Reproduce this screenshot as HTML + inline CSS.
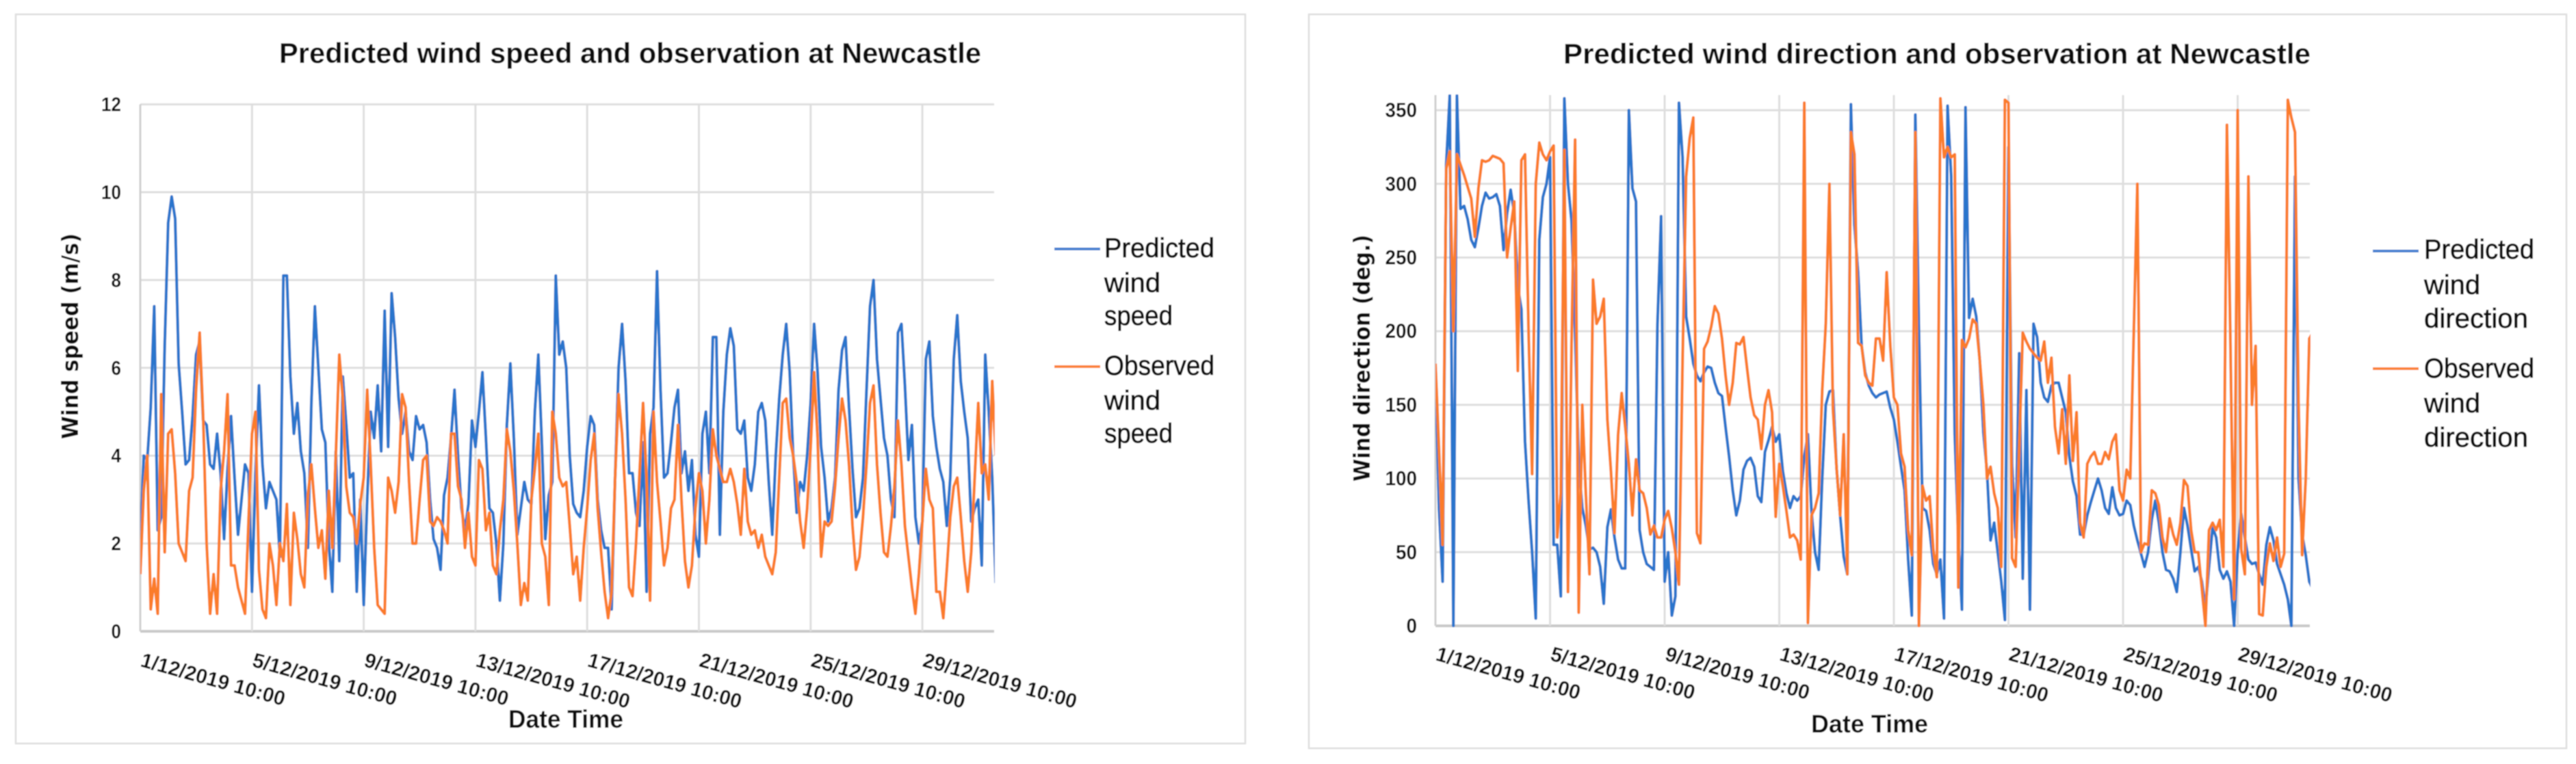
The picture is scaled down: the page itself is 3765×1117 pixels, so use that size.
<!DOCTYPE html>
<html>
<head>
<meta charset="utf-8">
<title>Predicted wind speed and direction at Newcastle</title>
<style>
html,body{margin:0;padding:0;background:#fff;}
svg{display:block;}
text{font-family:"Liberation Sans",sans-serif;fill:#0c0c0c;}
</style>
</head>
<body>
<svg id="figure" xmlns="http://www.w3.org/2000/svg" width="3765" height="1117" viewBox="0 0 3765 1117">
  <defs>
    <filter id="soft" x="0" y="0" width="100%" height="100%" filterUnits="userSpaceOnUse" primitiveUnits="userSpaceOnUse"><feGaussianBlur stdDeviation="0.9"/></filter>
    <clipPath id="clip-speed"><rect x="205" y="150" width="1249" height="776"/></clipPath>
    <clipPath id="clip-direction"><rect x="2098" y="138" width="1279" height="780"/></clipPath>
  </defs>
  <rect width="3765" height="1117" fill="#fff"/>
  <g id="root" filter="url(#soft)">
    <rect x="23" y="21" width="1797" height="1066" fill="#fff" stroke="#dedede" stroke-width="2.5"/>
    <rect x="1913" y="21" width="1838" height="1073" fill="#fff" stroke="#dedede" stroke-width="2.5"/>

    <g id="speed-chart">
      <text x="408" y="92" font-size="42" font-weight="bold" textLength="1026" lengthAdjust="spacingAndGlyphs">Predicted wind speed and observation at Newcastle</text>
      <text transform="translate(114,642) rotate(-90)" style="font-family:'DejaVu Sans',sans-serif" font-size="33" font-weight="bold" textLength="301" lengthAdjust="spacingAndGlyphs">Wind speed (m/s)</text>
      <text x="743" y="1064" font-size="37" font-weight="bold" textLength="168" lengthAdjust="spacingAndGlyphs">Date Time</text>
      <g id="speed-grid"></g>
      <g id="speed-series" clip-path="url(#clip-speed)"></g>
      <g id="speed-ticks"></g>
      <g stroke="#0c0c0c" stroke-width="0.8">
        <line x1="1541" y1="364" x2="1608" y2="364" stroke="#3f7fd0" stroke-width="4"/>
        <text x="1614" y="376" font-size="40" textLength="161" lengthAdjust="spacingAndGlyphs">Predicted</text>
        <text x="1614" y="427" font-size="40" textLength="82" lengthAdjust="spacingAndGlyphs">wind</text>
        <text x="1614" y="475" font-size="40" textLength="100" lengthAdjust="spacingAndGlyphs">speed</text>
        <line x1="1541" y1="536" x2="1608" y2="536" stroke="#fb8236" stroke-width="4"/>
        <text x="1614" y="548" font-size="40" textLength="161" lengthAdjust="spacingAndGlyphs">Observed</text>
        <text x="1614" y="599" font-size="40" textLength="82" lengthAdjust="spacingAndGlyphs">wind</text>
        <text x="1614" y="647" font-size="40" textLength="100" lengthAdjust="spacingAndGlyphs">speed</text>
      </g>
    </g>

    <g id="direction-chart">
      <text x="2285" y="93" font-size="42" font-weight="bold" textLength="1092" lengthAdjust="spacingAndGlyphs">Predicted wind direction and observation at Newcastle</text>
      <text transform="translate(2002,704) rotate(-90)" style="font-family:'DejaVu Sans',sans-serif" font-size="33" font-weight="bold" textLength="361" lengthAdjust="spacingAndGlyphs">Wind direction (deg.)</text>
      <text x="2647" y="1071" font-size="37" font-weight="bold" textLength="171" lengthAdjust="spacingAndGlyphs">Date Time</text>
      <g id="direction-grid"></g>
      <g id="direction-series" clip-path="url(#clip-direction)"></g>
      <g id="direction-ticks"></g>
      <g stroke="#0c0c0c" stroke-width="0.8">
        <line x1="3468" y1="367" x2="3535" y2="367" stroke="#3f7fd0" stroke-width="4"/>
        <text x="3543" y="378" font-size="40" textLength="161" lengthAdjust="spacingAndGlyphs">Predicted</text>
        <text x="3543" y="430" font-size="40" textLength="82" lengthAdjust="spacingAndGlyphs">wind</text>
        <text x="3543" y="479" font-size="40" textLength="152" lengthAdjust="spacingAndGlyphs">direction</text>
        <line x1="3468" y1="539" x2="3535" y2="539" stroke="#fb8236" stroke-width="4"/>
        <text x="3543" y="552" font-size="40" textLength="161" lengthAdjust="spacingAndGlyphs">Observed</text>
        <text x="3543" y="603" font-size="40" textLength="82" lengthAdjust="spacingAndGlyphs">wind</text>
        <text x="3543" y="653" font-size="40" textLength="152" lengthAdjust="spacingAndGlyphs">direction</text>
      </g>
    </g>
  </g>
</svg>
<script>
// Date tick labels (one every 4 days = 96 hours)
const dateLabels = ["1/12/2019 10:00","5/12/2019 10:00","9/12/2019 10:00","13/12/2019 10:00","17/12/2019 10:00","21/12/2019 10:00","25/12/2019 10:00","29/12/2019 10:00"];
const speedTicks = [0,2,4,6,8,10,12];
const directionTicks = [0,50,100,150,200,250,300,350];
const hoursPerSample = 3;

// Wind speed (m/s), one reading per 3 hours
const predictedSpeed = [2.0,4.0,3.9,5.1,7.4,2.3,2.6,6.5,9.3,9.9,9.4,6.1,5.0,3.8,3.9,4.9,6.3,6.6,4.8,4.7,3.8,3.7,4.5,3.6,2.1,3.7,4.9,3.5,2.2,3.0,3.8,3.6,0.9,3.6,5.6,3.8,2.8,3.4,3.2,3.0,1.7,8.1,8.1,5.8,4.5,5.2,4.1,3.6,1.9,5.2,7.4,6.0,4.6,4.3,2.0,0.9,4.1,1.6,5.8,4.7,3.5,3.6,0.9,3.0,0.6,3.0,5.0,4.4,5.6,4.1,7.3,4.2,7.7,6.7,5.3,4.5,5.0,4.1,3.9,4.9,4.6,4.7,4.3,3.0,2.1,1.9,1.4,3.1,3.5,4.4,5.5,4.0,2.8,2.3,2.9,4.8,4.2,5.0,5.9,4.4,2.8,2.7,2.0,0.7,2.0,4.7,6.1,4.4,2.2,2.8,3.4,3.0,2.9,5.0,6.3,4.3,2.1,3.1,3.4,8.1,6.3,6.6,
6.0,4.0,2.9,2.7,2.6,3.2,4.2,4.9,4.7,3.0,2.3,1.9,1.9,0.5,3.5,6.0,7.0,5.7,3.6,3.6,2.7,2.4,4.3,0.9,4.5,5.1,8.2,5.5,3.5,3.6,4.3,5.1,5.5,3.6,4.1,3.2,3.9,2.2,1.7,4.5,5.0,3.6,6.7,6.7,2.2,5.0,6.3,6.9,6.5,4.6,4.5,4.8,3.5,3.2,3.8,5.0,5.2,4.8,3.4,2.2,4.0,5.3,6.3,7.0,5.9,4.0,2.7,3.4,3.2,4.0,5.2,7.0,5.9,4.2,3.5,2.5,2.8,3.5,5.5,6.4,6.7,5.1,3.7,2.6,2.8,3.5,5.5,7.4,8.0,6.2,5.3,4.4,4.0,3.0,2.6,6.8,7.0,5.6,3.9,4.7,2.6,2.0,2.5,6.2,6.6,4.9,4.2,3.7,3.4,2.4,3.5,6.2,7.2,5.7,5.0,4.4,2.5,2.8,3.0,1.5,6.3,5.0,3.5,1.1];

const observedSpeed = [1.3,3.2,4.0,0.5,1.2,0.4,5.4,1.8,4.5,4.6,3.6,2.0,1.8,1.6,3.2,3.5,5.5,6.8,4.9,2.0,0.4,1.3,0.4,3.2,4.1,5.4,1.5,1.5,1.0,0.7,0.4,2.5,4.5,5.0,1.4,0.5,0.3,2.0,1.5,0.6,2.0,1.6,2.9,0.6,2.7,2.1,1.3,1.0,3.1,3.8,2.8,1.9,2.3,1.2,3.2,1.9,4.0,6.3,5.3,3.3,2.7,2.6,2.0,2.9,3.5,5.5,3.8,1.9,0.6,0.5,0.4,3.5,3.2,2.7,3.4,5.4,5.1,3.4,2.0,2.0,3.0,3.9,4.0,2.5,2.4,2.6,2.5,2.3,2.0,4.5,4.5,3.3,3.0,1.9,2.7,1.7,1.5,3.9,3.7,2.3,2.7,1.5,1.3,2.3,3.0,4.6,4.1,3.2,2.0,0.6,1.1,0.7,3.0,3.7,4.5,2.0,1.7,0.6,5.0,4.5,3.5,3.3,
3.4,2.4,1.3,1.7,0.7,1.9,2.8,3.9,4.5,2.8,1.8,0.9,0.3,0.9,3.5,5.4,4.5,3.0,1.0,0.8,2.0,3.6,5.2,3.5,0.7,5.0,3.4,2.5,1.5,1.9,2.8,3.0,4.7,3.0,1.6,1.0,1.5,2.8,3.6,3.2,2.0,3.0,4.6,4.0,3.7,3.4,3.4,3.7,3.4,2.9,2.2,3.7,2.5,2.2,2.3,1.9,2.2,1.7,1.5,1.3,1.8,3.5,5.2,5.3,4.4,4.0,3.4,2.5,1.9,2.8,4.2,5.9,4.4,1.7,2.5,2.4,2.5,3.3,4.4,5.3,4.8,3.8,2.4,1.4,1.7,2.6,3.8,5.2,5.6,3.8,2.7,1.8,1.7,2.4,3.3,4.8,3.8,2.4,1.7,1.0,0.4,1.3,2.5,3.7,3.0,2.8,0.9,0.9,0.3,1.4,2.6,3.3,3.5,2.6,1.6,0.9,1.8,3.5,5.2,3.6,3.8,3.0,5.7,4.0];

// Wind direction (degrees), one reading per 3 hours
const predictedDirection = [175,80,30,313,360,0,360,283,285,276,262,257,270,285,294,290,291,293,285,255,280,296,280,230,215,125,85,50,5,262,291,300,318,55,55,20,358,300,275,200,110,80,68,52,53,50,40,15,67,79,60,45,39,39,350,297,288,65,50,42,40,38,205,278,30,50,7,20,355,318,210,195,178,170,166,172,176,175,165,158,156,135,115,92,75,85,106,112,114,108,88,84,118,126,135,125,130,105,90,80,88,85,88,115,130,78,50,38,100,150,159,160,107,75,47,35,354,272,240,190,172,163,158,155,
157,158,159,148,140,125,108,92,45,7,347,200,80,78,65,42,35,45,5,353,305,130,60,11,352,209,222,210,180,131,105,58,70,50,30,4,325,110,60,185,32,160,11,205,196,165,155,152,163,165,165,155,145,115,98,88,62,62,75,84,92,100,92,80,76,94,80,75,76,85,82,68,58,49,40,50,72,85,70,50,38,37,32,23,50,80,68,52,37,40,30,12,40,67,60,38,32,37,30,0,50,76,60,45,42,43,35,28,55,67,58,42,35,28,18,0,305,100,62,48,30,25];

const observedDirection = [178,120,55,310,322,200,320,313,306,298,290,264,297,316,315,316,319,318,317,314,250,270,288,173,316,320,200,103,300,328,320,316,322,326,60,90,323,23,191,330,9,150,90,35,235,205,210,222,140,105,63,130,158,135,110,75,113,92,90,80,62,68,60,60,72,78,66,50,28,180,305,331,345,63,56,188,193,203,217,212,195,170,150,165,192,191,196,175,155,143,140,120,150,160,145,74,110,95,78,60,62,58,45,355,2,75,80,90,160,205,300,147,107,75,130,35,335,320,192,190,170,165,163,195,
195,180,240,190,155,150,117,108,65,48,335,0,95,85,88,52,33,358,318,325,318,320,26,194,189,195,208,205,180,150,100,108,90,80,40,357,355,46,40,120,199,193,188,185,182,180,193,165,182,135,117,147,110,170,112,145,70,60,110,115,118,110,110,118,113,125,130,92,85,106,100,200,300,50,56,55,92,90,82,60,50,73,62,55,70,99,95,65,50,50,25,0,65,70,65,72,40,340,190,18,350,52,35,305,150,190,8,7,40,56,44,60,40,49,357,345,335,150,48,100,195,199];

// Axis functions: hours-since-start to x, value to y
function xSpeed(hour){ return 205 + hour * 163.3 / 96; }
function ySpeed(v){ return 923 - v * 64.2; }
function xDirection(hour){ return 2098 + hour * 167.5 / 96; }
function yDirection(v){ return 915 - v * 2.154; }

const SVGNS = "http://www.w3.org/2000/svg";

function makeGridLine(parent, x1, y1, x2, y2, color, width){
  const el = document.createElementNS(SVGNS, "line");
  
  
  el.setAttribute("x1", x1);
  el.setAttribute("y1", y1);
  el.setAttribute("x2", x2);
  el.setAttribute("y2", y2);
  el.setAttribute("stroke", color);
  el.setAttribute("stroke-width", width);
  parent.appendChild(el);
}

function makeSeries(parent, values, xFn, yFn, color, name){
  const el = document.createElementNS(SVGNS, "path");
  
  
  const pts = [];
  for (let i = 0; i < values.length; i++){
    pts.push((i === 0 ? "M" : "L") + xFn(i * hoursPerSample).toFixed(1) + " " + yFn(values[i]).toFixed(1));
  }
  el.setAttribute("d", pts.join(""));
  el.setAttribute("fill", "none");
  el.setAttribute("stroke", color);
  el.setAttribute("stroke-width", "4.2");
  el.setAttribute("stroke-linejoin", "round");
  parent.appendChild(el);
}

function makeValueLabel(parent, text, x, y, size, digitWidth){
  const el = document.createElementNS(SVGNS, "text");
  
  
  el.setAttribute("x", x - text.length * digitWidth);
  el.setAttribute("y", y);
  el.setAttribute("font-size", size);
  el.setAttribute("font-weight", "bold");
  el.setAttribute("textLength", String(text.length * digitWidth));
  el.setAttribute("lengthAdjust", "spacingAndGlyphs");
  el.textContent = text;
  parent.appendChild(el);
}

function makeDateLabel(parent, text, x, y){
  const el = document.createElementNS(SVGNS, "text");
  
  
  el.setAttribute("transform", "translate(" + x + "," + y + ") rotate(15.5)");
  el.setAttribute("font-size", "30");
  el.setAttribute("font-weight", "bold");
  el.setAttribute("textLength", String(text.length * 14.5));
  el.setAttribute("lengthAdjust", "spacingAndGlyphs");
  el.textContent = text;
  parent.appendChild(el);
}

function drawChart(opts){
  const grid = document.getElementById(opts.gridId);
  const ticks = document.getElementById(opts.tickId);
  const series = document.getElementById(opts.seriesId);
  opts.yTicks.forEach(function(v){
    const y = opts.y(v);
    makeGridLine(grid, opts.left, y, opts.right, y, v === 0 ? "#c9c9c9" : "#dedede", v === 0 ? 4 : 3);
    makeValueLabel(ticks, String(v), opts.labelX, y + 10, opts.labelSize, opts.digitWidth);
  });
  dateLabels.forEach(function(label, i){
    const x = opts.x(i * 96);
    makeGridLine(grid, x, opts.top, x, opts.y(0), i === 0 ? "#cfcfcf" : "#dedede", 3);
    makeDateLabel(ticks, label, x - 1, opts.dateY);
  });
  makeSeries(series, opts.predicted, opts.x, opts.y, "#2a74cc", opts.predictedName);
  makeSeries(series, opts.observed, opts.x, opts.y, "#fb7c2a", opts.observedName);
}

drawChart({gridId:"speed-grid",tickId:"speed-ticks",seriesId:"speed-series",x:xSpeed,y:ySpeed,
  yTicks:speedTicks,left:205,right:1453,top:ySpeed(12),labelX:177,labelSize:29,digitWidth:14.5,dateY:974,
  predicted:predictedSpeed,observed:observedSpeed,predictedName:"predicted-speed-line",observedName:"observed-speed-line"});
drawChart({gridId:"direction-grid",tickId:"direction-ticks",seriesId:"direction-series",x:xDirection,y:yDirection,
  yTicks:directionTicks,left:2098,right:3376,top:139,labelX:2071,labelSize:30,digitWidth:15.5,dateY:965,
  predicted:predictedDirection,observed:observedDirection,predictedName:"predicted-direction-line",observedName:"observed-direction-line"});
</script>
</body>
</html>
